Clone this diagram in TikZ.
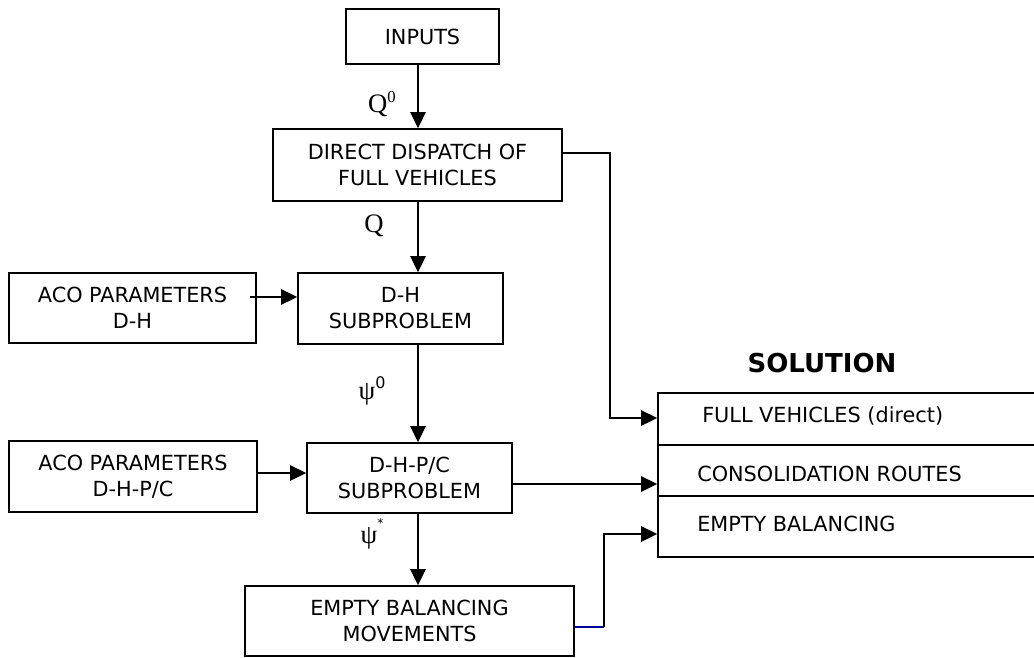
\documentclass[tikz,border=0pt]{standalone}
\usepackage{fontspec}
\setmainfont{DejaVu Sans}
\newfontfamily\tms{Liberation Serif}
\usetikzlibrary{arrows.meta,calc}
\begin{document}
\begin{tikzpicture}[x=0.75pt,y=-0.75pt,
  box/.style={draw,line width=1.3pt,align=center,inner sep=0pt,font=\fontsize{15.6}{19.5}\selectfont},
  solrow/.style={draw,line width=1.3pt,inner sep=0pt,minimum width=286.5pt},
  arr/.style={line width=1.3pt,-{Triangle[length=12pt,width=11.5pt]}},
  conn/.style={line width=1.3pt},
  lbl/.style={font=\tms\fontsize{20}{20}\selectfont,inner sep=0pt},
  rowtxt/.style={anchor=west,inner sep=0pt,font=\fontsize{15.6}{19.5}\selectfont},
  title/.style={inner sep=0pt,font=\bfseries\fontsize{19.5}{22}\selectfont}]
\useasboundingbox (0,0) rectangle (1034,657);
\clip (0,0) rectangle (1034,657);

% boxes
\node[box,minimum width=114.75pt,minimum height=41.25pt] (inputs) at (422.5,36.5) {INPUTS};
\node[box,minimum width=216.75pt,minimum height=54pt] (direct) at (417.5,165) {DIRECT DISPATCH OF\\FULL VEHICLES};
\node[box,minimum width=185.25pt,minimum height=52.5pt] (aco1) at (132.5,308) {ACO PARAMETERS\\D-H};
\node[box,minimum width=153.75pt,minimum height=53.25pt] (dh) at (400.5,308.5) {D-H\\SUBPROBLEM};
\node[box,minimum width=186pt,minimum height=53.25pt] (aco2) at (133,476.5) {ACO PARAMETERS\\D-H-P/C};
\node[box,minimum width=153.75pt,minimum height=52.5pt] (dhpc) at (409.5,478) {D-H-P/C\\SUBPROBLEM};
\node[box,minimum width=246.75pt,minimum height=52.5pt] (empty) at (409.5,621) {EMPTY BALANCING\\MOVEMENTS};

% solution
\node[title] (soltitle) at (822,363) {SOLUTION};
\node[solrow,minimum height=39pt] (r1) at (849,419) {};
\node[solrow,minimum height=38.25pt] (r2) at (849,470.5) {};
\node[solrow,minimum height=45.75pt] (r3) at (849,526.5) {};
\node[rowtxt] (t1) at (702,416) {FULL VEHICLES (direct)};
\node[rowtxt] (t2) at (697,474) {CONSOLIDATION ROUTES};
\node[rowtxt] (t3) at (697,524) {EMPTY BALANCING};

% labels
\node[lbl] (q0) at (382,104) {Q\raisebox{0.8ex}{\fontsize{12.5}{12.5}\selectfont 0}};
\node[lbl] (q) at (374,226) {Q};
\node[lbl] (psi0) at (372,391) {ψ\raisebox{0.9ex}{\normalfont\fontsize{12}{12}\selectfont 0}};
\node[lbl] (psis) at (372,534) {ψ\raisebox{1.3ex}{\normalfont\fontsize{9}{9}\selectfont *}};

% vertical flow
\coordinate (v0) at (418,64);
\draw[arr] (v0) -- (v0 |- direct.north);
\coordinate (vq) at (418,201);
\draw[arr] (vq) -- (vq |- dh.north);
\coordinate (v1) at (418,344);
\draw[arr] (v1) -- (v1 |- dhpc.north);
\coordinate (v2) at (418,513);
\draw[arr] (v2) -- (v2 |- empty.north);

% ACO arrows
\coordinate (a1) at ($(aco1.east)+(-7,-11)$);
\draw[arr] (a1) -- (a1 -| dh.west);
\coordinate (a2) at ($(aco2.east)+(0,-3.5)$);
\draw[arr] (a2) -- (a2 -| dhpc.west);

% to solution
\coordinate (d1) at ($(direct.east)+(0,-12)$);
\coordinate (k1) at (610,418);
\draw[arr] (d1) -| (k1) -- (k1 -| r1.west);
\coordinate (p2) at ($(dhpc.east)+(0,6)$);
\draw[arr] (p2) -- (p2 -| r2.west);
\coordinate (e1) at ($(empty.east)+(0,6)$);
\coordinate (k3) at (604,627);
\coordinate (k4) at (604,534);
\draw[conn,color=blue!60!black] (e1) -- (k3);
\draw[arr] (k3) -- (k4) -- (k4 -| r3.west);
\end{tikzpicture}
\end{document}
